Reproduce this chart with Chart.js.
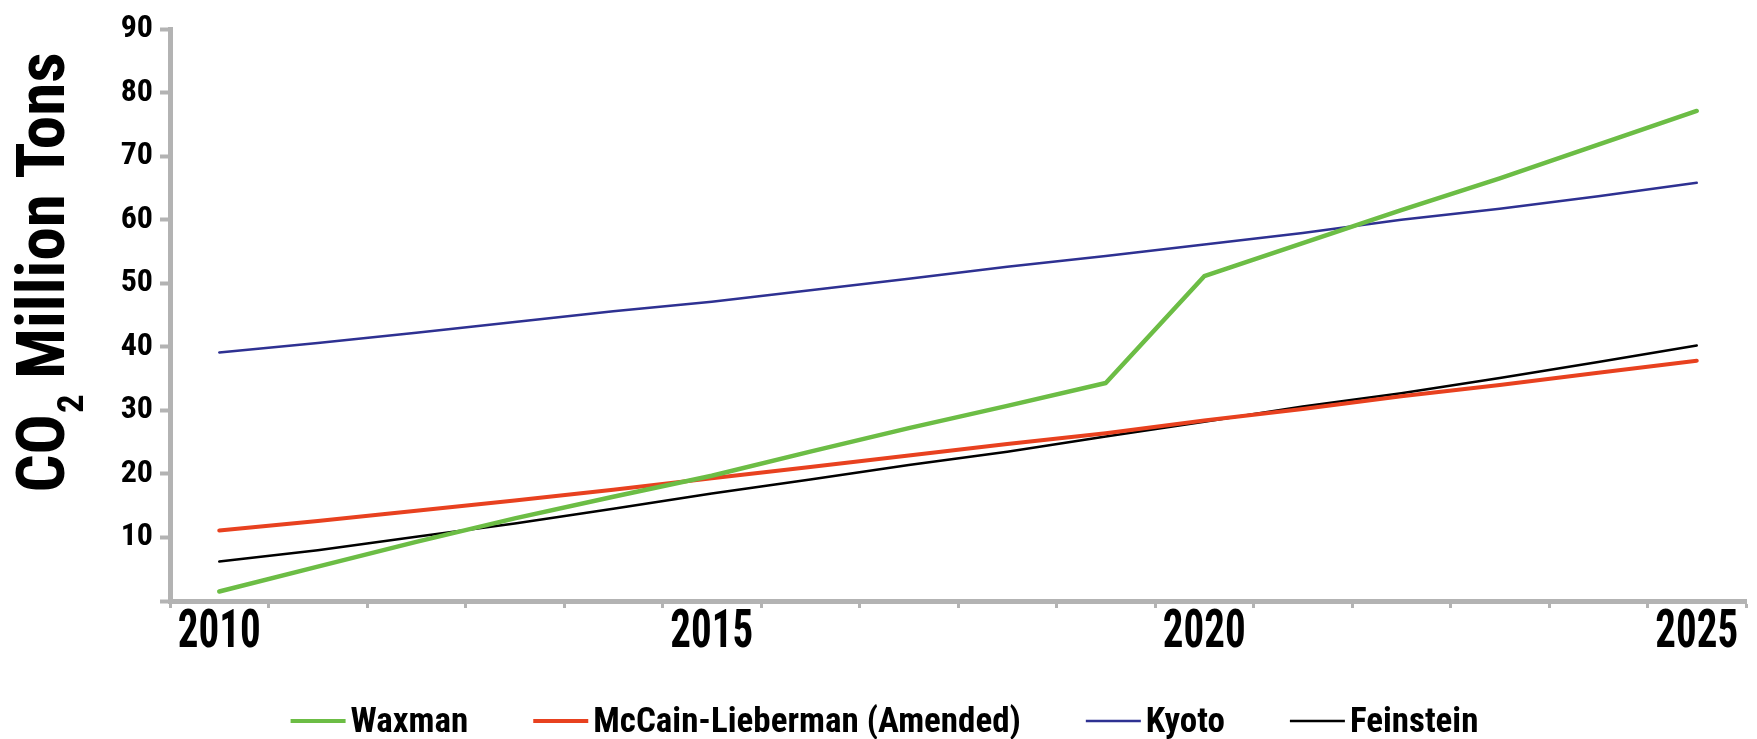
<!DOCTYPE html>
<html>
<head>
<meta charset="utf-8">
<script src="https://cdn.jsdelivr.net/npm/chart.js@4.4.1/dist/chart.umd.min.js"></script>
<style>
  html, body { margin: 0; padding: 0; background: #ffffff; }
  #wrap { width: 1757px; height: 739px; position: relative; }
</style>
</head>
<body>
<div id="wrap"><canvas id="c" width="1757" height="739"></canvas></div>
<script>
// Projected CO2 reductions by proposal, million tons per year
const years = ['2010','2011','2012','2013','2014','2015','2016','2017',
               '2018','2019','2020','2021','2022','2023','2024','2025'];
const waxman    = [1.5, 5.4, 9.3, 13.0, 16.4, 19.7, 23.5, 27.2, 30.7, 34.3, 51.1, 56.3, 61.5, 66.5, 71.8, 77.1];
const mccain    = [11.1, 12.6, 14.2, 15.8, 17.5, 19.3, 21.1, 22.9, 24.7, 26.4, 28.4, 30.2, 32.2, 34.0, 35.9, 37.8];
const kyoto     = [39.1, 40.6, 42.2, 43.9, 45.6, 47.1, 48.9, 50.7, 52.6, 54.3, 56.1, 57.9, 60.0, 61.7, 63.7, 65.8];
const feinstein = [6.2, 8.0, 10.1, 12.2, 14.5, 16.9, 19.1, 21.4, 23.5, 25.9, 28.2, 30.6, 32.7, 35.1, 37.6, 40.2];
const seriesNames = ['Waxman', 'McCain-Lieberman (Amended)', 'Kyoto', 'Feinstein'];
const labeledYears = ['2010', '2015', '2020', '2025'];
const yMin = 0, yMax = 90, yStep = 10;
const titleMain = 'CO', titleSub = '2', titleRest = ' Million Tons';

const NARROW = '"Roboto Condensed", "Liberation Sans Narrow", "Arial Narrow", sans-serif';
const AXIS_GRAY = '#b3b3b3';
const X_FONT_SIZE = 41;
const X_STRETCH = 1.29;   // tall, narrow year labels

// Rotated axis title with a subscripted "2"
const yTitlePlugin = {
  id: 'yTitle',
  afterDraw(chart) {
    const ctx = chart.ctx;
    const big = 'bold 67px ' + NARROW;
    const small = 'bold 37px ' + NARROW;
    ctx.save();
    ctx.font = big;
    const w1 = ctx.measureText(titleMain).width;
    const w3 = ctx.measureText(titleRest).width;
    ctx.font = small;
    const w2 = ctx.measureText(titleSub).width;
    const total = w1 + w2 + w3;
    ctx.translate(64, 273);
    ctx.rotate(-Math.PI / 2);
    ctx.fillStyle = '#000';
    ctx.textBaseline = 'alphabetic';
    ctx.textAlign = 'left';
    let x = -total / 2;
    ctx.font = big;
    ctx.fillText(titleMain, x, 0);
    x += w1 + 1;
    ctx.font = small;
    ctx.fillText(titleSub, x, 19);
    x += w2;
    ctx.font = big;
    ctx.fillText(titleRest, x, 0);
    ctx.restore();
  }
};

// Legend row along the bottom: short line sample followed by the series name
const legendRowPlugin = {
  id: 'legendRow',
  afterDraw(chart) {
    const ctx = chart.ctx;
    const font = 'bold 35px ' + NARROW;
    const lineLen = 55, textGap = 5, itemGap = 65;
    const baseY = 732, lineY = 721;
    ctx.save();
    ctx.font = font;
    const sets = chart.data.datasets;
    const widths = sets.map(d => ctx.measureText(d.label).width);
    let total = 0;
    widths.forEach((w, i) => { total += lineLen + textGap + w + (i ? itemGap : 0); });
    let x = chart.width / 2 + 6 - total / 2;
    sets.forEach((d, i) => {
      ctx.strokeStyle = d.borderColor;
      ctx.lineWidth = Math.min(d.borderWidth, 4);
      ctx.lineCap = 'butt';
      ctx.beginPath();
      ctx.moveTo(x, lineY);
      ctx.lineTo(x + lineLen, lineY);
      ctx.stroke();
      x += lineLen + textGap;
      ctx.fillStyle = '#000';
      ctx.textBaseline = 'alphabetic';
      ctx.textAlign = 'left';
      ctx.fillText(d.label, x, baseY);
      x += widths[i] + itemGap;
    });
    ctx.restore();
  }
};

// Draw the x-axis year labels stretched vertically around their centre line
function stretchXLabels(scale) {
  if (scale._stretchWrapped) return;
  const original = scale.drawLabels.bind(scale);
  scale.drawLabels = function (area) {
    const ctx = this.ctx;
    const lineH = X_FONT_SIZE * 1.2;
    const oldCentre = this.top + 7 + lineH / 2 + X_FONT_SIZE * 0.027;
    const newCentre = this.top + 34;
    ctx.save();
    ctx.translate(0, newCentre);
    ctx.scale(1, X_STRETCH);
    ctx.translate(0, -oldCentre);
    original(area);
    ctx.restore();
  };
  scale._stretchWrapped = true;
}

const colors = ['#6cbd45', '#e8411f', '#2e3192', '#000000'];
const widthsPx = [4.5, 4, 2.5, 2.5];
const seriesData = [waxman, mccain, kyoto, feinstein];

new Chart(document.getElementById('c'), {
  type: 'line',
  data: {
    labels: years,
    datasets: seriesNames.map((name, i) => ({
      label: name,
      data: seriesData[i],
      borderColor: colors[i],
      backgroundColor: colors[i],
      borderWidth: widthsPx[i],
      pointRadius: 0,
      pointHoverRadius: 0,
      tension: 0,
      fill: false,
      borderCapStyle: 'round',
      borderJoinStyle: 'round'
    }))
  },
  options: {
    responsive: false,
    animation: false,
    devicePixelRatio: 1,
    layout: { padding: { top: 29, right: 11, bottom: 0, left: 0 } },
    plugins: {
      legend: { display: false },
      tooltip: { enabled: false },
      title: { display: false }
    },
    scales: {
      x: {
        type: 'category',
        offset: true,
        grid: {
          offset: true,
          drawOnChartArea: false,
          drawTicks: true,
          tickLength: 7,
          tickWidth: 3,
          tickColor: AXIS_GRAY
        },
        border: { display: true, color: AXIS_GRAY, width: 5 },
        ticks: {
          autoSkip: false,
          maxRotation: 0,
          minRotation: 0,
          padding: 0,
          color: '#000',
          font: { family: NARROW, size: X_FONT_SIZE, weight: 'bold' },
          callback(value) {
            const lbl = this.getLabelForValue(value);
            return labeledYears.includes(lbl) ? lbl : '';
          }
        },
        afterFit(scale) { scale.height = 138; },
        afterUpdate(scale) { stretchXLabels(scale); }
      },
      y: {
        min: yMin,
        max: yMax,
        grid: {
          drawOnChartArea: false,
          drawTicks: true,
          tickLength: 10,
          tickWidth: 4,
          tickColor: AXIS_GRAY
        },
        border: { display: true, color: AXIS_GRAY, width: 5 },
        ticks: {
          stepSize: yStep,
          padding: 7,
          color: '#000',
          font: { family: NARROW, size: 32, weight: 'bold' },
          callback(value) { return value === 0 ? '' : value; }
        },
        afterFit(scale) { scale.width = 170; }
      }
    }
  },
  plugins: [yTitlePlugin, legendRowPlugin]
});
</script>
</body>
</html>
